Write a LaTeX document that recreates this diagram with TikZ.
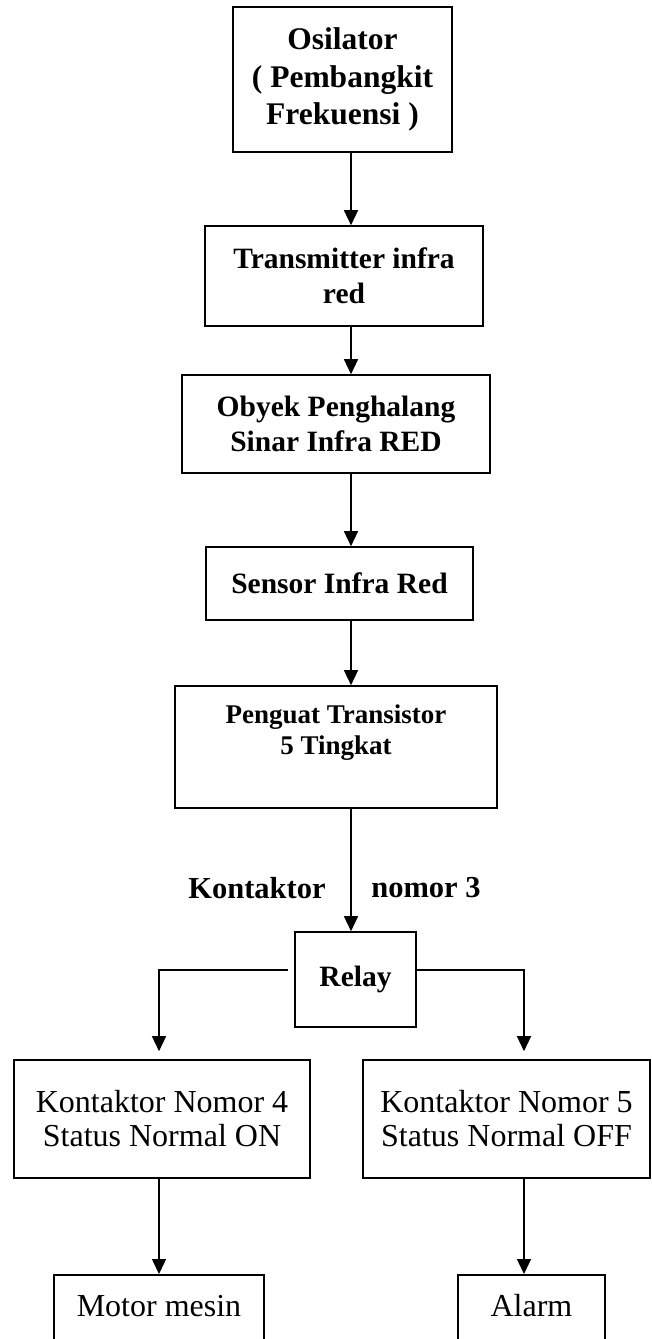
\documentclass[tikz,border=0pt]{standalone}
\usepackage{fontspec}
\setmainfont{Liberation Serif}
\usetikzlibrary{arrows.meta,positioning}

\begin{document}
\begin{tikzpicture}[x=1pt,y=-1pt,
  blok/.style={draw,line width=1.6pt,align=center,inner sep=0pt,font=\bfseries\fontsize{29.5}{35}\selectfont},
  teks/.style={align=center,font=\bfseries\fontsize{30.5}{35}\selectfont},
  tipis/.style={font=\fontsize{32}{34}\selectfont},
  panah/.style={line width=1.4pt,-{Triangle[length=15pt,width=14pt]}}]
\clip (0,0) rectangle (651,1339);
\coordinate (sumbu) at (351,0);
\coordinate (kiri) at (159,0);
\coordinate (kanan) at (524,0);
\node[blok,minimum width=219,minimum height=145,font=\bfseries\fontsize{31.5}{37.5}\selectfont] (osc) at (342.5,79.5) {Osilator\\( Pembangkit\\Frekuensi )};
\node[blok,minimum width=278,minimum height=100] (tx) at (344,276) {Transmitter infra\\red};
\node[blok,minimum width=308,minimum height=98] (obj) at (336,424) {Obyek Penghalang\\Sinar Infra RED};
\node[blok,minimum width=267,minimum height=73] (sensor) at (339.5,583.5) {Sensor Infra Red};
\node[blok,minimum width=322,minimum height=122] (amp) at (336,747) {};
\node[teks,font=\bfseries\fontsize{27}{31}\selectfont] (amptk) at (336,733) {Penguat Transistor\\5 Tingkat};
\node[teks] (kon) at (257,888) {Kontaktor};
\node[teks] (nom) at (426,888) {nomor 3};
\node[blok,minimum width=121,minimum height=95,font=\bfseries\fontsize{29.5}{35}\selectfont] (relay) at (355.5,979.5) {Relay};
\node[blok,tipis,minimum width=296,minimum height=118] (k4) at (162,1119) {Kontaktor Nomor 4\\Status Normal ON};
\node[blok,tipis,minimum width=287,minimum height=118] (k5) at (506.5,1119) {Kontaktor Nomor 5\\Status Normal OFF};
\node[blok,tipis,anchor=north,minimum width=210,text height=42pt,text depth=60pt] (motor) at (159,1274) {Motor mesin};
\node[blok,tipis,anchor=north,minimum width=147,text height=42pt,text depth=60pt] (alarm) at (531.5,1274) {Alarm};
\draw[panah] (osc.south -| sumbu) -- (tx.north -| sumbu);
\draw[panah] (tx.south -| sumbu) -- (obj.north -| sumbu);
\draw[panah] (obj.south -| sumbu) -- (sensor.north -| sumbu);
\draw[panah] (sensor.south -| sumbu) -- (amp.north -| sumbu);
\draw[panah] (amp.south -| sumbu) -- (relay.north -| sumbu);
\draw[panah,shorten <=6pt,shorten >=8pt] ([yshift=9.5pt]relay.west) -| (k4.north -| kiri);
\draw[panah,shorten >=8pt] ([yshift=9.5pt]relay.east) -| (k5.north -| kanan);
\draw[panah] (k4.south -| kiri) -- (motor.north -| kiri);
\draw[panah] (k5.south -| kanan) -- (alarm.north -| kanan);
\end{tikzpicture}
\end{document}
